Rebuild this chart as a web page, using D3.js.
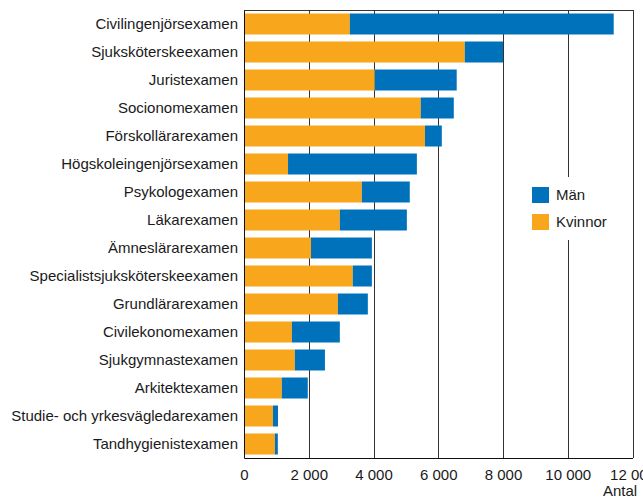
<!DOCTYPE html>
<html><head><meta charset="utf-8">
<script src="https://cdn.jsdelivr.net/npm/d3@7"></script>
<style>
body{margin:0;background:#fff;}
text{font-family:"Liberation Sans",Arial,sans-serif;fill:#1a1a1a;}
</style></head>
<body><svg id="c" width="643" height="497"></svg>
<script>
const categories = ["Civilingenjörsexamen","Sjuksköterskeexamen","Juristexamen","Socionomexamen","Förskollärarexamen","Högskoleingenjörsexamen","Psykologexamen","Läkarexamen","Ämneslärarexamen","Specialistsjuksköterskeexamen","Grundlärarexamen","Civilekonomexamen","Sjukgymnastexamen","Arkitektexamen","Studie- och yrkesvägledarexamen","Tandhygienistexamen"];
const kvinnor = [3270, 6820, 4040, 5460, 5590, 1360, 3640, 2960, 2070, 3360, 2900, 1480, 1570, 1170, 895, 955];
const man = [8150, 1180, 2530, 1020, 520, 3980, 1480, 2070, 1880, 590, 925, 1480, 930, 800, 155, 90];
const tickValues = [0, 2000, 4000, 6000, 8000, 10000, 12000];
const tickLabels = ["0", "2 000", "4 000", "6 000", "8 000", "10 000", "12 000"];
const seriesNames = ["Män", "Kvinnor"];
const colors = {"Kvinnor": "#F8A61C", "Män": "#0072BB"};

const FONT = '"Liberation Sans",Arial,sans-serif';
const FS = 15;
const svg = d3.select("#c");
const L = 244, R = 632.5, T = 10, B = 458;
const x = d3.scaleLinear().domain([0, 12000]).range([L, R]);
const y = d3.scaleBand().domain(categories).range([T, B]).paddingInner(0.25).paddingOuter(0.125);

const data = categories.map((c, i) => ({cat: c, Kvinnor: kvinnor[i], "Män": man[i]}));
const stack = d3.stack().keys(["Kvinnor", "Män"])(data);

// gridlines
svg.append("g").selectAll("line").data(tickValues.slice(1)).join("line")
  .attr("x1", d => Math.round(x(d)) + 0.5).attr("x2", d => Math.round(x(d)) + 0.5)
  .attr("y1", T).attr("y2", B).attr("stroke", "#333").attr("stroke-width", 1);

// bars
svg.append("g").selectAll("g").data(stack).join("g")
  .attr("fill", d => colors[d.key])
  .selectAll("rect").data(d => d).join("rect")
  .attr("x", d => x(d[0])).attr("width", d => x(d[1]) - x(d[0]))
  .attr("y", d => y(d.data.cat)).attr("height", y.bandwidth());

// frame: top line
svg.append("line").attr("x1", L).attr("x2", Math.round(R) + 0.5).attr("y1", T + 0.5).attr("y2", T + 0.5).attr("stroke", "#333");

// axes
const xAxis = d3.axisBottom(x).tickValues(tickValues).tickFormat((d, i) => tickLabels[i]).tickSize(0).tickPadding(11);
const gx = svg.append("g").attr("transform", `translate(0,${B})`).call(xAxis);
gx.select(".domain").attr("stroke", "#111");
gx.selectAll("text").attr("font-size", FS).style("font-family", FONT).attr("fill", "#1a1a1a");

const yAxis = d3.axisLeft(y).tickSize(0).tickPadding(6);
const gy = svg.append("g").attr("transform", `translate(${L},0)`).call(yAxis);
gy.select(".domain").attr("stroke", "#111");
gy.selectAll("text").attr("font-size", FS).style("font-family", FONT).attr("fill", "#1a1a1a");

svg.append("text").attr("x", 603).attr("y", 496).attr("font-size", FS).text("Antal");

// legend
const lg = svg.append("g");
lg.append("rect").attr("x", 522).attr("y", 177).attr("width", 110).attr("height", 63).attr("fill", "#fff");
seriesNames.forEach((s, i) => {
  lg.append("rect").attr("x", 532).attr("y", 187 + i * 27).attr("width", 17).attr("height", 16).attr("fill", colors[s]);
  lg.append("text").attr("x", 556).attr("y", 195 + i * 27).attr("dy", "0.35em").attr("font-size", FS).text(s);
});
</script></body></html>
